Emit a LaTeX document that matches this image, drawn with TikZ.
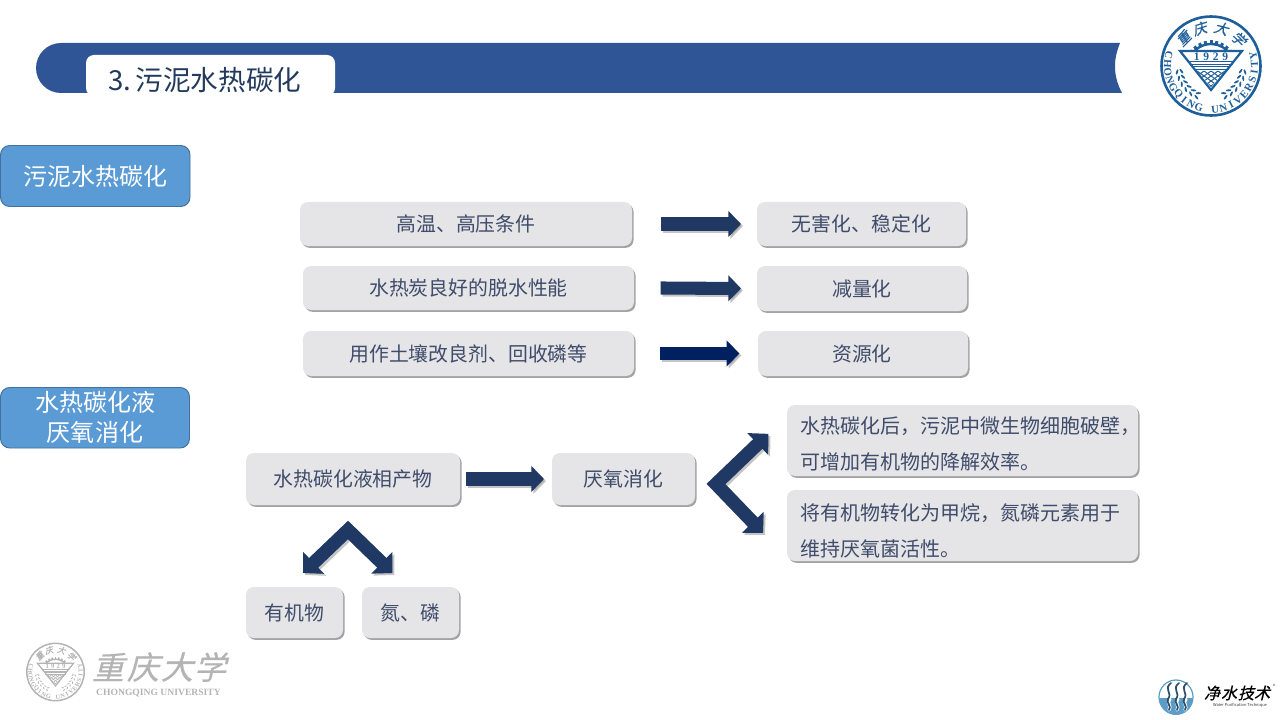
\documentclass[tikz,border=0pt]{standalone}
\usepackage{fontspec}
\usetikzlibrary{arrows.meta,shadows,calc}
\setmainfont{Noto Sans CJK SC}
\newfontfamily\titlefont[WordSpace=0.4]{Noto Sans CJK SC}
\newfontfamily\calfont[FakeSlant=0.25,FakeBold=0.6]{Noto Sans CJK SC}
\newfontfamily\serfont{Liberation Serif}
\definecolor{banner}{HTML}{2F5597}
\definecolor{bluebox}{HTML}{5B9BD5}
\definecolor{blueedge}{HTML}{41719C}
\definecolor{graybx}{HTML}{E5E4E6}
\definecolor{txt}{HTML}{3F4C6B}
\definecolor{titletxt}{HTML}{223A5E}
\definecolor{arrA}{HTML}{1F3864}
\definecolor{arrB}{HTML}{002060}
\definecolor{sealblue}{HTML}{1F5F99}
\definecolor{sealgray}{HTML}{B4B4B4}
\definecolor{waterblue}{HTML}{5B9CC8}
\tikzset{
  graybox/.style={rounded corners=6pt,fill=graybx,inner sep=0pt,outer sep=0pt,
    text=txt,font=\fontsize{14.9}{18}\selectfont,
    drop shadow={shadow xshift=1.2pt,shadow yshift=-1.4pt,fill=black,opacity=0.36}},
  noteline/.style={align=left,font=\fontsize{15}{27}\selectfont},
  sidebox/.style={rounded corners=7pt,fill=bluebox,draw=blueedge,line width=0.7pt,inner sep=0pt,outer sep=0pt,
    text=white,align=center,font=\fontsize{18}{22.5}\selectfont},
  arrshadow/.style={draw=black!45,opacity=0.5,transform canvas={xshift=1.5pt,yshift=-1.5pt}},
  straightarr/.style={line width=9.8pt,-{Triangle[length=9.5pt,width=19pt]}},
  bentarr/.style={line width=10pt,line join=miter,{Triangle[length=11pt,width=22pt]}-{Triangle[length=11pt,width=22pt]}},
}
\newcommand\gbox[6]{\node[graybox,minimum width={(#4-#2)*0.75pt},minimum height={(#5-#3)*0.75pt}] (#1) at ({(#2+#4)/2},{(#3+#5)/2}) {#6\hspace{1.5pt}};}
\newcommand\sidebx[6]{\node[sidebox,minimum width={(#4-#2)*0.75pt},minimum height={(#5-#3)*0.75pt}] (#1) at ({(#2+#4)/2},{(#3+#5)/2}) {#6};}
\newcommand\blockarr[3]{\draw[#1,arrshadow] #3; \draw[#1,draw=#2] #3;}
\newcommand\seal[5]{% name cx cy scale colour
  \pgfmathsetlengthmacro\sx{#4*0.75pt}
  \pgfmathsetmacro\fa{8*#4}
  \pgfmathsetmacro\fb{10.5*#4}
  \pgfmathsetmacro\fc{8.6*#4}
  \pgfmathsetlengthmacro\lw{#4*0.75pt}
  \begin{scope}[shift={(#2,#3)},x=\sx,y=-\sx,line cap=butt]
    \draw[#5,line width=2.6*\lw] (0,0) circle[radius=49.5];
    \foreach \ch [count=\i from 0] in {C,H,O,N,G,Q,I,N,G,{},U,N,I,V,E,R,S,I,T,Y}{
      \pgfmathsetmacro\ang{194-\i*10.95}
      \node[text=#5,inner sep=0pt,rotate={90-\ang}] (#1c\i) at (\ang:43.5) {\serfont\bfseries\fontsize{\fa}{\fa}\selectfont\ch};
    }
    \foreach \ch/\ang [count=\i] in {重/225,庆/253,大/285,学/315}{
      \node[text=#5,inner sep=0pt,rotate={270-\ang}] (#1z\i) at (\ang:39) {\calfont\fontsize{\fb}{\fb}\selectfont\ch};
    }
    % gear
    \draw[#5,line width=2.4*\lw] ($(0,1)+(215:23)$) arc[start angle=215,end angle=325,radius=23];
    \foreach \a in {218,231,...,322}{
      \draw[#5,line width=3*\lw] ($(0,1)+(\a:22)$) -- ($(0,1)+(\a:26.5)$);
    }
    % triangle
    \fill[white] (-31,-15) -- (31,-15) -- (0,24) -- cycle;
    \draw[#5,line width=2.2*\lw,line join=miter] (-31,-15) -- (31,-15) -- (0,24) -- cycle;
    \node[text=#5,inner sep=0pt] (#1y) at (0,-9) {\serfont\bfseries\fontsize{\fc}{\fc}\selectfont 1\,\,9\,\,2\,\,9};
    \draw[#5,line width=1.6*\lw] (-23.5,-4.5) -- (23.5,-4.5);
    \draw[#5,line width=0.8*\lw] (-21.5,-2) -- (21.5,-2);
    \draw[#5,line width=0.8*\lw] (-19.5,0.5) -- (19.5,0.5);
    \draw[#5,line width=0.8*\lw] (-17.5,3) -- (17.5,3);
    \begin{scope}
      \clip (-14.5,5) -- (14.5,5) -- (0,21) -- cycle;
      \foreach \d in {-28,-21,...,28}{
        \draw[#5,line width=1*\lw] (\d-14,5) -- (\d+14,25);
        \draw[#5,line width=1*\lw] (\d+14,5) -- (\d-14,25);
      }
    \end{scope}
    % wreath
    \foreach \a in {10,21,...,65}{
      \foreach \sg in {1,-1}{
        \pgfmathsetmacro\aa{\sg>0?\a:180-\a}
        \pgfmathsetmacro\ra{\sg*(-\a-62)}
        \pgfmathsetmacro\rb{\sg*(-\a-118)}
        \fill[#5,shift={(\aa:34.5)},rotate=\ra] (0,0) ellipse[x radius=2.8,y radius=1];
        \fill[#5,shift={(\aa:30)},rotate=\rb] (0,0) ellipse[x radius=2.8,y radius=1];
      }
    }
  \end{scope}
}
\begin{document}
\begin{tikzpicture}[x=0.75pt,y=-0.75pt]
\useasboundingbox (0,0) rectangle (1280,720);
% banner
\fill[banner] (61,43) -- (1120,43) .. controls (1113,60) and (1113,76) .. (1122,93) -- (61,93) arc[start angle=90,end angle=270,radius=25] -- cycle;
\fill[white,rounded corners=6pt] (86,96) -- (86,55) -- (335,55) -- (335,96) -- cycle;
\fill[white] (80,93.5) rectangle (340,100);
\node[anchor=west,inner sep=0pt,text=titletxt,font=\titlefont\fontsize{20.7}{24}\selectfont] (title) at (108,80) {3. 污泥水热碳化};
% side boxes
\sidebx{sideA}{0.5}{145.5}{190}{206.5}{污泥水热碳化}
\sidebx{sideB}{0.5}{387.5}{189.5}{448}{水热碳化液\\厌氧消化}
% rows
\gbox{a1}{300}{202}{632}{246}{高温、高压条件}
\gbox{b1}{757}{202}{966}{246}{无害化、稳定化}
\gbox{a2}{303}{266}{634}{310}{水热炭良好的脱水性能}
\gbox{b2}{757}{266}{967}{311}{减量化}
\gbox{a3}{303}{331}{634}{376}{用作土壤改良剂、回收磷等}
\gbox{b3}{758}{331}{968}{376}{资源化\hspace{1.5pt}}
\gbox{c1}{246}{453}{460}{505}{水热碳化液相产物}
\gbox{c2}{552}{453}{695}{505}{厌氧消化}
\gbox{d1}{246}{587}{343}{638}{有机物}
\gbox{d2}{362}{587}{459}{638}{氮、磷}
\gbox{e1}{787}{405}{1138}{476}{}
\gbox{e2}{787}{490}{1138}{561}{}
\node[anchor=west,inner sep=0pt,text=txt,noteline] (e1t) at (800,443.5) {水热碳化后，污泥中微生物细胞破壁，\\可增加有机物的降解效率。};
\node[anchor=west,inner sep=0pt,text=txt,noteline] (e2t) at (800,530.5) {将有机物转化为甲烷，氮磷元素用于\\维持厌氧菌活性。};
% straight arrows
\blockarr{straightarr}{arrA}{([xshift=21.75pt]a1.east) -- ([xshift=-12pt]b1.west)}
\blockarr{straightarr}{arrA}{([xshift=20pt]a2.east) -- ([xshift=-12pt]b2.west)}
\blockarr{straightarr}{arrB}{([xshift=19.5pt]a3.east) -- ([xshift=-14pt]b3.west)}
\blockarr{straightarr}{arrA}{([xshift=4.5pt]c1.east) -- ([xshift=-6pt]c2.west)}
% bent arrows
\coordinate (vr) at (716,484);
\coordinate (vt) at (348,530);
\blockarr{bentarr}{arrA}{([xshift=-14pt,yshift=5pt]e1.west) -- (vr) -- ([xshift=-18pt,yshift=-5.5pt]e2.west)}
\blockarr{bentarr}{arrA}{([xshift=42.75pt,yshift=10.5pt]d1.north west) -- (vt) -- ([xshift=-50pt,yshift=10.5pt]d2.north east)}
% top right seal
\seal{tr}{1211}{66}{1}{sealblue}
% bottom left logo
\seal{bl}{55.5}{672}{0.58}{sealgray}
\foreach \ch/\px [count=\i] in {重/108,庆/143,大/177,学/210}{
  \node[text=sealgray,inner sep=0pt,font=\calfont\fontsize{24}{24}\selectfont] (blz\i) at (\px,667) {\ch};
}
\node[text=sealgray,inner sep=0pt,font=\serfont\bfseries\fontsize{7.2}{8}\selectfont] (blen) at (158.5,693.5) {CHONGQING UNIVERSITY};
% bottom right logo
\fill[waterblue] (1159,698) -- (1193,698) arc[start angle=0,end angle=180,radius=17] -- cycle;
\draw[waterblue,line width=0.9pt] (1176,697) circle[radius=17];
\foreach \dx in {-8,0,8}{
  \draw[white,line width=2.4pt,line cap=round] (1178+\dx,699) .. controls (1174+\dx,703) and (1180+\dx,706) .. (1177+\dx,710);
  \draw[black!50!waterblue,line width=1.3pt,line cap=round] (1179+\dx,683) .. controls (1171+\dx,689) and (1181+\dx,693) .. (1176+\dx,699) .. controls (1174+\dx,703) and (1180+\dx,706) .. (1177+\dx,710);
}
\foreach \ch/\px [count=\i] in {净/1212,水/1229,技/1246,术/1262}{
  \node[text=black,inner sep=0pt,font=\calfont\fontsize{12}{12}\selectfont] (brz\i) at (\px,693) {\ch};
}
\node[text=black!80,inner sep=0pt,font=\fontsize{3}{4}\selectfont] (bren) at (1240,705) {Water Purification Technique};
\node[text=black!70,inner sep=0pt,font=\fontsize{4}{4}\selectfont] (brr) at (1274,686) {®};
\end{tikzpicture}
\end{document}
